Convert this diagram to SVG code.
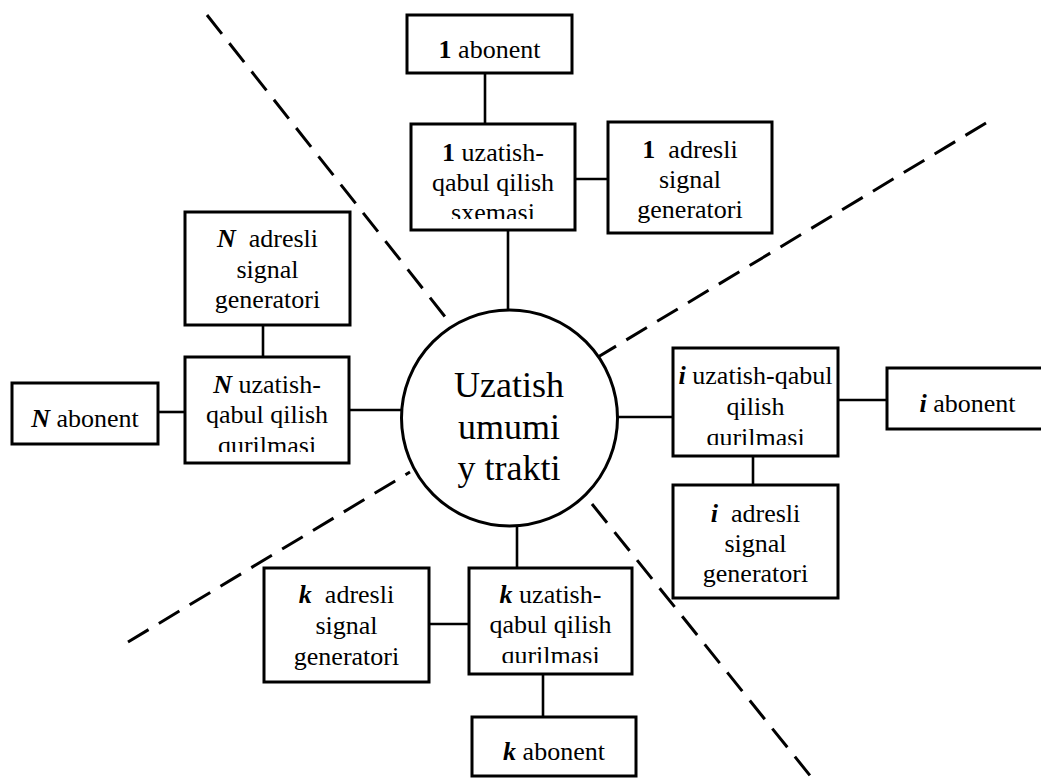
<svg xmlns="http://www.w3.org/2000/svg" width="1041" height="778" viewBox="0 0 1041 778">
<style>
  .box { fill: #fff; stroke: #000; stroke-width: 3; }
  .conn { stroke: #000; stroke-width: 2.6; fill: none; }
  .dash { stroke: #000; stroke-width: 3; fill: none; stroke-dasharray: 24 12; }
  .t { font-family: "Liberation Serif", "Times New Roman", serif; font-size: 26px; fill: #000; text-anchor: middle; }
  .big { font-family: "Liberation Serif", "Times New Roman", serif; font-size: 36px; fill: #000; text-anchor: middle; }
  .b { font-weight: bold; }
  .bi { font-weight: bold; font-style: italic; }
</style>
<defs>
  <clipPath id="c1"><rect x="411" y="124" width="164" height="95"/></clipPath>
  <clipPath id="cN"><rect x="185" y="357" width="164" height="95"/></clipPath>
  <clipPath id="ci"><rect x="673" y="348" width="165" height="97"/></clipPath>
  <clipPath id="ck"><rect x="469" y="568" width="163" height="95"/></clipPath>
</defs>
<rect width="1041" height="778" fill="#fff"/>

<g id="dashes">
  <line class="dash" x1="207" y1="15" x2="450" y2="323"/>
  <line class="dash" x1="986" y1="123" x2="598" y2="357"/>
  <line class="dash" x1="128" y1="642" x2="410" y2="472"/>
  <line class="dash" x1="592" y1="504" x2="812" y2="778"/>
</g>

<g id="connectors">
  <line class="conn" x1="485" y1="73" x2="485" y2="124"/>
  <line class="conn" x1="575" y1="179" x2="608" y2="179"/>
  <line class="conn" x1="508" y1="230" x2="508" y2="310"/>
  <line class="conn" x1="263" y1="325" x2="263" y2="357"/>
  <line class="conn" x1="158" y1="412" x2="185" y2="412"/>
  <line class="conn" x1="349" y1="410" x2="402" y2="410"/>
  <line class="conn" x1="617" y1="417" x2="673" y2="417"/>
  <line class="conn" x1="838" y1="400" x2="887" y2="400"/>
  <line class="conn" x1="753" y1="456" x2="753" y2="485"/>
  <line class="conn" x1="517" y1="526" x2="517" y2="568"/>
  <line class="conn" x1="429" y1="624" x2="469" y2="624"/>
  <line class="conn" x1="543" y1="674" x2="543" y2="717"/>
</g>

<g id="center">
  <circle cx="509.5" cy="418" r="108" fill="#fff" stroke="#000" stroke-width="3"/>
  <text class="big" x="509" y="397">Uzatish</text>
  <text class="big" x="509" y="439">umumi</text>
  <text class="big" x="509" y="480">y trakti</text>
</g>

<g id="abonent1">
  <rect class="box" x="407" y="15" width="165" height="58"/>
  <text class="t" x="489.5" y="58"><tspan class="b">1</tspan> abonent</text>
</g>
<g id="uzatish1">
  <rect class="box" x="411" y="124" width="164" height="106"/>
  <g clip-path="url(#c1)">
    <text class="t" x="493" y="161"><tspan class="b">1</tspan> uzatish-</text>
    <text class="t" x="493" y="191">qabul qilish</text>
    <text class="t" x="493" y="221">sxemasi</text>
  </g>
</g>
<g id="adresli1">
  <rect class="box" x="608" y="122" width="164" height="111"/>
  <text class="t" x="690" y="158"><tspan class="b">1</tspan>&#160; adresli</text>
  <text class="t" x="690" y="188">signal</text>
  <text class="t" x="690" y="218">generatori</text>
</g>

<g id="adresliN">
  <rect class="box" x="185" y="212" width="165" height="113"/>
  <text class="t" x="267.5" y="247"><tspan class="bi">N</tspan>&#160; adresli</text>
  <text class="t" x="267.5" y="278">signal</text>
  <text class="t" x="267.5" y="308">generatori</text>
</g>
<g id="uzatishN">
  <rect class="box" x="185" y="357" width="164" height="106"/>
  <g clip-path="url(#cN)">
    <text class="t" x="267" y="393"><tspan class="bi">N</tspan> uzatish-</text>
    <text class="t" x="267" y="423">qabul qilish</text>
    <text class="t" x="267" y="454">qurilmasi</text>
  </g>
</g>
<g id="abonentN">
  <rect class="box" x="12" y="383" width="146" height="61"/>
  <text class="t" x="85" y="427"><tspan class="bi">N</tspan> abonent</text>
</g>

<g id="uzatishI">
  <rect class="box" x="673" y="348" width="165" height="108"/>
  <g clip-path="url(#ci)">
    <text class="t" x="755.5" y="384"><tspan class="bi">i</tspan> uzatish-qabul</text>
    <text class="t" x="755.5" y="415">qilish</text>
    <text class="t" x="755.5" y="446">qurilmasi</text>
  </g>
</g>
<g id="abonentI">
  <rect class="box" x="887" y="368" width="161" height="61"/>
  <text class="t" x="967.5" y="412"><tspan class="bi">i</tspan> abonent</text>
</g>
<g id="adresliI">
  <rect class="box" x="673" y="485" width="165" height="113"/>
  <text class="t" x="755.5" y="522"><tspan class="bi">i</tspan>&#160; adresli</text>
  <text class="t" x="755.5" y="552">signal</text>
  <text class="t" x="755.5" y="582">generatori</text>
</g>

<g id="adresliK">
  <rect class="box" x="264" y="568" width="165" height="114"/>
  <text class="t" x="346.5" y="603"><tspan class="bi">k</tspan>&#160; adresli</text>
  <text class="t" x="346.5" y="634">signal</text>
  <text class="t" x="346.5" y="665">generatori</text>
</g>
<g id="uzatishK">
  <rect class="box" x="469" y="568" width="163" height="106"/>
  <g clip-path="url(#ck)">
    <text class="t" x="550.5" y="603"><tspan class="bi">k</tspan> uzatish-</text>
    <text class="t" x="550.5" y="633">qabul qilish</text>
    <text class="t" x="550.5" y="664">qurilmasi</text>
  </g>
</g>
<g id="abonentK">
  <rect class="box" x="472" y="717" width="164" height="59"/>
  <text class="t" x="554" y="760"><tspan class="bi">k</tspan> abonent</text>
</g>
</svg>
